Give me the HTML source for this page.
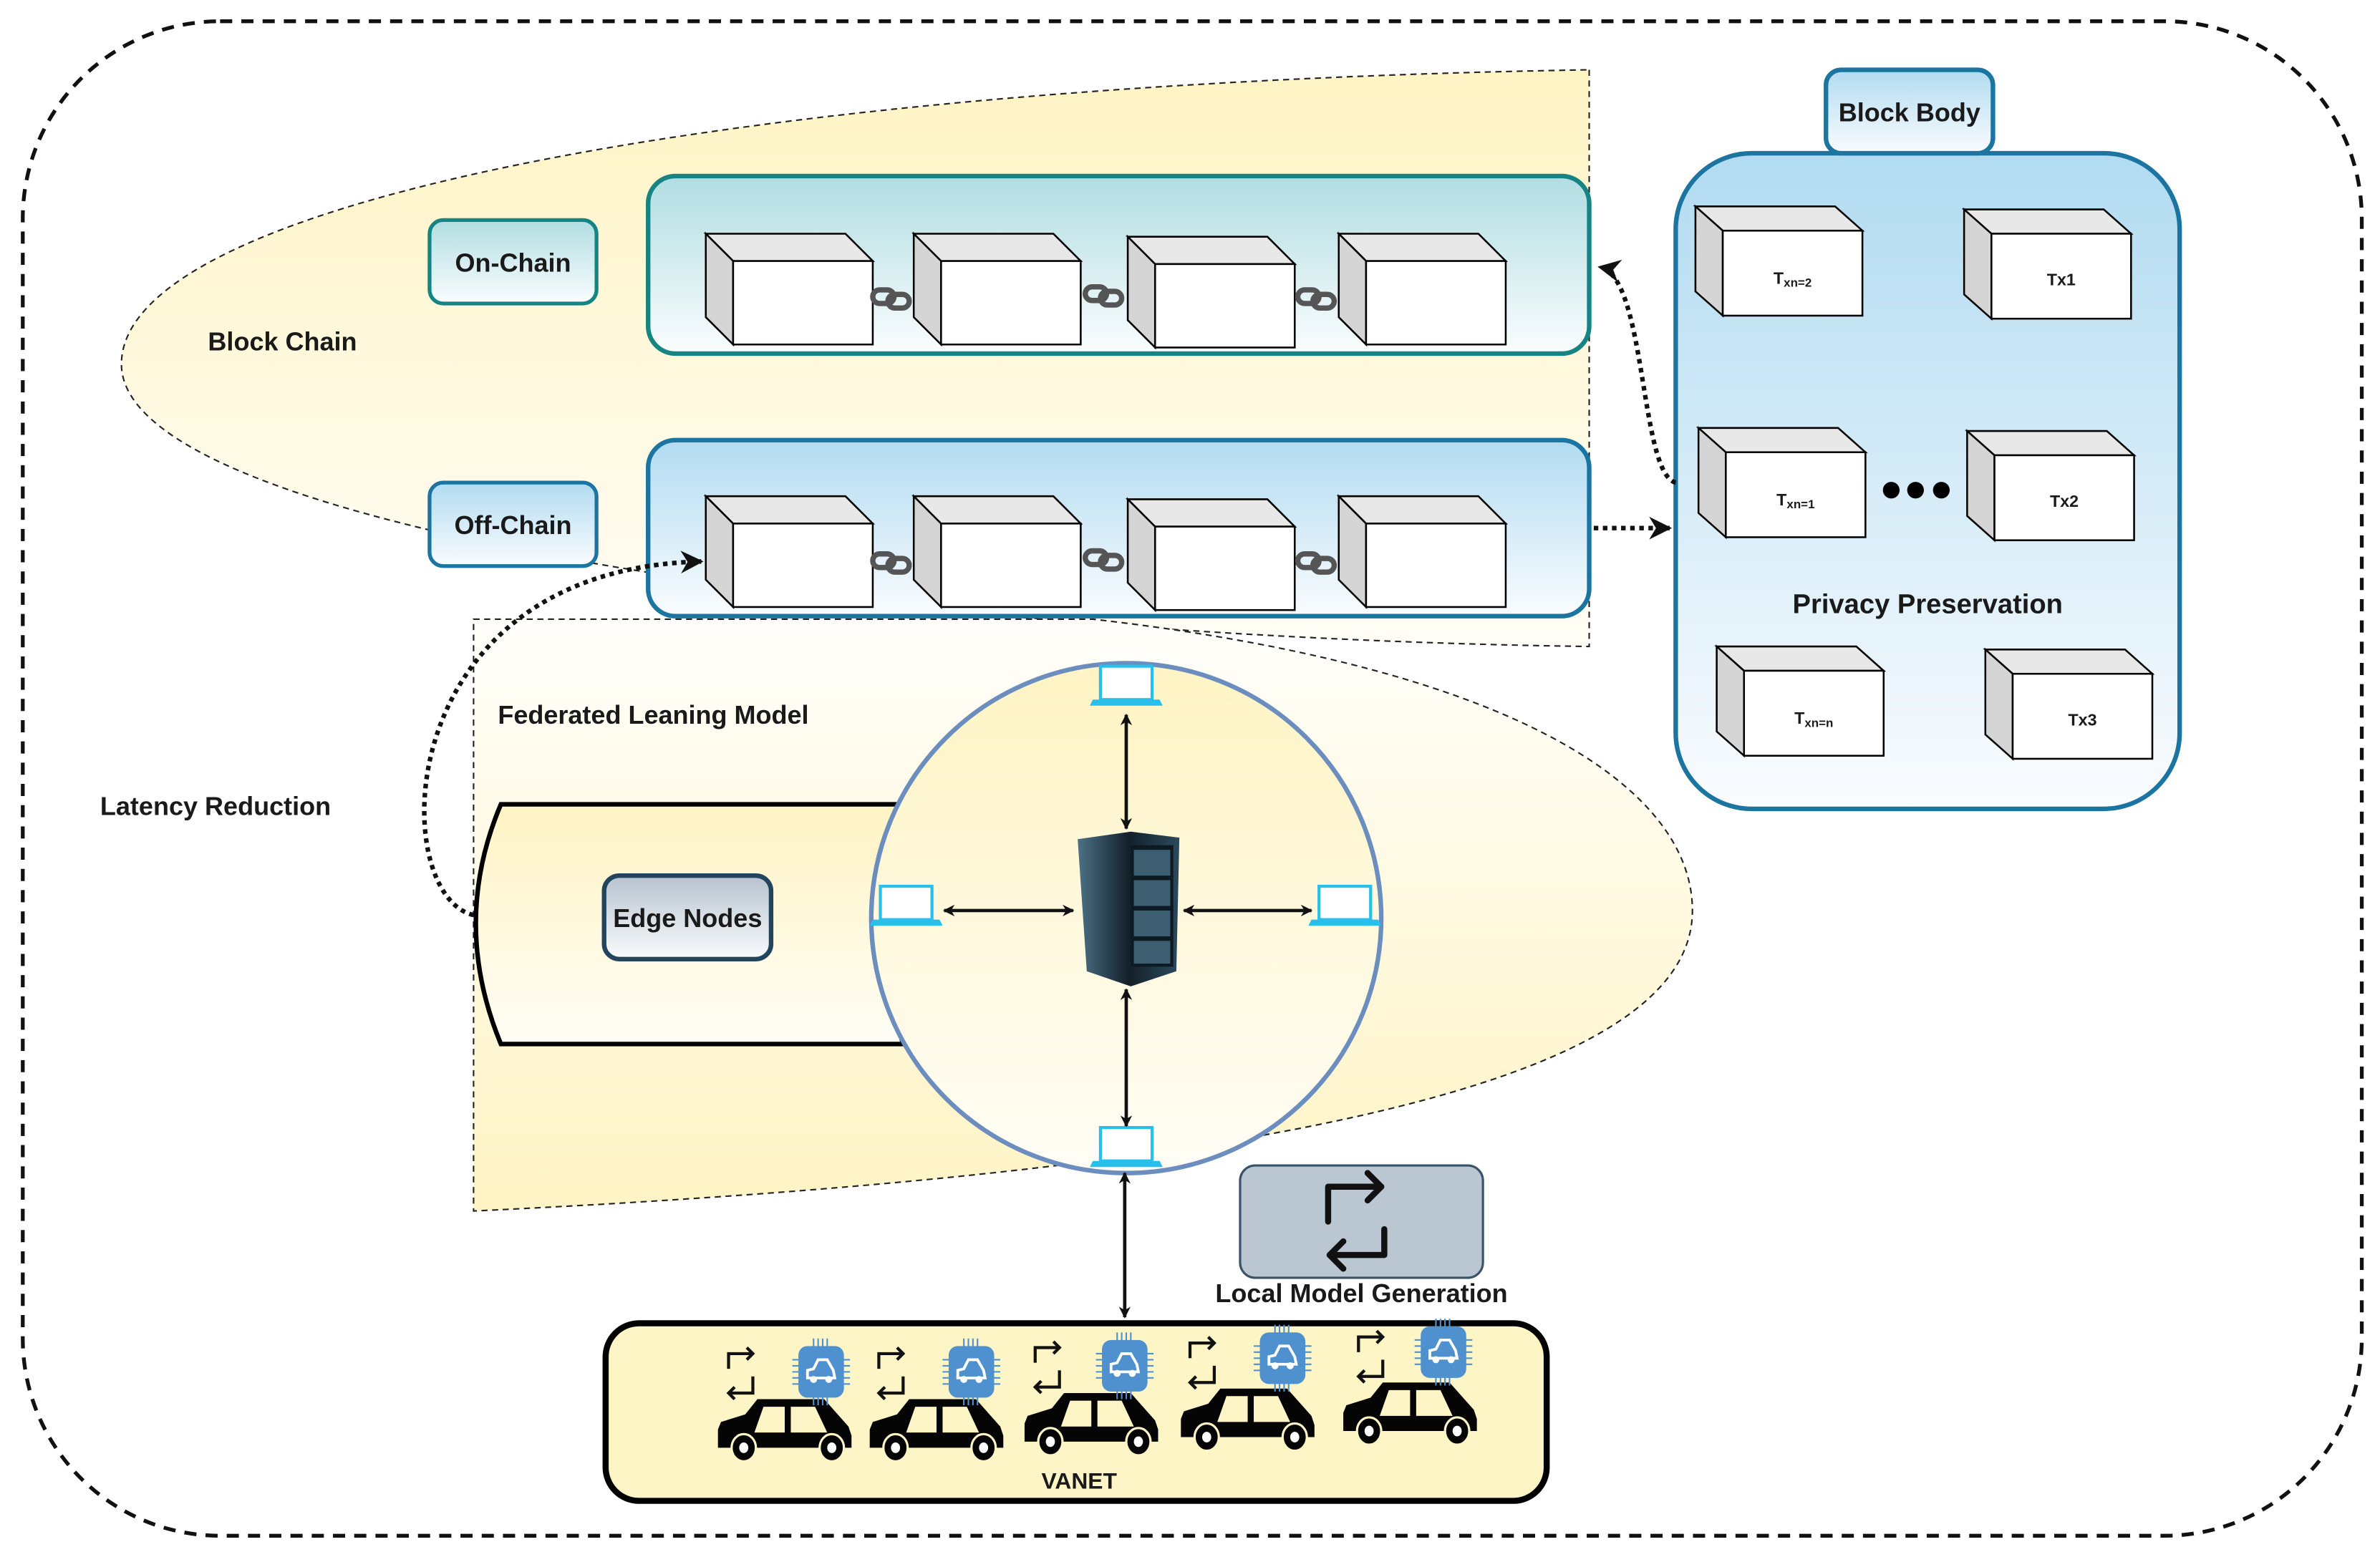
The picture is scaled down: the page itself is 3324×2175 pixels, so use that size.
<!DOCTYPE html>
<html><head><meta charset="utf-8"><style>
html,body{margin:0;padding:0;background:#fff;}
svg{display:block;}
text{font-family:"Liberation Sans",Arial,sans-serif;fill:#1a1a1a;}
</style></head><body>
<svg width="3324" height="2175" viewBox="0 0 1568 1026" preserveAspectRatio="none" xmlns="http://www.w3.org/2000/svg">
<defs>
<linearGradient id="yel" x1="0" y1="0" x2="0" y2="1"><stop offset="0" stop-color="#fff4c4"/><stop offset="1" stop-color="#fffdf6"/></linearGradient>
<linearGradient id="yelUp" x1="0" y1="0" x2="0" y2="1"><stop offset="0" stop-color="#fffefb"/><stop offset="1" stop-color="#fff4c4"/></linearGradient>
<linearGradient id="teal" x1="0" y1="0" x2="0" y2="1"><stop offset="0" stop-color="#b0dde2"/><stop offset="1" stop-color="#fbfdfe"/></linearGradient>
<linearGradient id="blue" x1="0" y1="0" x2="0" y2="1"><stop offset="0" stop-color="#b1dbf1"/><stop offset="1" stop-color="#fafcfe"/></linearGradient>
<linearGradient id="gray" x1="0" y1="0" x2="0" y2="1"><stop offset="0" stop-color="#b7c3cf"/><stop offset="1" stop-color="#f9fbfc"/></linearGradient>
<linearGradient id="srv" x1="0" y1="0" x2="1" y2="0"><stop offset="0" stop-color="#4c7186"/><stop offset="0.5" stop-color="#13202a"/><stop offset="1" stop-color="#2b4a5c"/></linearGradient>
<marker id="ah" viewBox="0 0 10 10" refX="9" refY="5" markerWidth="5" markerHeight="5" orient="auto-start-reverse"><path d="M0,0 L10,5 L0,10 L3,5 Z" fill="#111"/></marker>
<marker id="ah2" viewBox="0 0 10 10" refX="9" refY="5" markerWidth="3.5" markerHeight="3.5" orient="auto-start-reverse"><path d="M0,0 L10,5 L0,10 L3,5 Z" fill="#111"/></marker>
<g id="cube">
<path d="M0,0 L92,0 L110,18 L18,18 Z" fill="#e8e8e8" stroke="#000" stroke-width="1.2"/>
<path d="M0,0 L18,18 L18,73 L0,55 Z" fill="#d5d5d5" stroke="#000" stroke-width="1.2"/>
<rect x="18" y="18" width="92" height="55" fill="#fff" stroke="#000" stroke-width="1.2"/>
</g>
<g id="tx">
<path d="M0,0 L92,0 L110,16 L18,16 Z" fill="#e8e8e8" stroke="#000" stroke-width="1.2"/>
<path d="M0,0 L18,16 L18,72 L0,56 Z" fill="#d5d5d5" stroke="#000" stroke-width="1.2"/>
<rect x="18" y="16" width="92" height="56" fill="#fff" stroke="#000" stroke-width="1.2"/>
</g>
<g id="link" fill="none" stroke="#555" stroke-width="3.5">
<rect x="-12" y="-6" width="14" height="9" rx="4.5"/>
<rect x="-2" y="-3" width="14" height="9" rx="4.5"/>
</g>
<g id="laptop">
<rect x="-17" y="-20" width="34" height="22" fill="#fff" stroke="#29bfeb" stroke-width="2"/>
<path d="M-22,2 L22,2 L24,6 L-24,6 Z" fill="#29bfeb"/>
</g>
<g id="rep" fill="none" stroke="#111" stroke-width="2">
<path d="M2,12 L2,2 L18,2"/><path d="M14,-2 L18,2 L14,6"/>
<path d="M18,17 L18,28 L2,28"/><path d="M6,24 L2,28 L6,32"/>
</g>
<g id="car">
<path d="M0,20 L2,15 L18,10 L26,0 L70,0 L86,18 L88,24 L88,32 L0,32 Z" fill="#050505"/>
<path d="M30,5 L44,5 L44,22 L24,22 Z" fill="#fdf5c6"/>
<path d="M48,5 L64,5 L72,22 L48,22 Z" fill="#fdf5c6"/>
<ellipse cx="17" cy="32" rx="8" ry="9" fill="#050505" stroke="#fdf5c6" stroke-width="1.5"/>
<ellipse cx="17" cy="32" rx="3" ry="3.5" fill="#fff"/>
<ellipse cx="75" cy="32" rx="8" ry="9" fill="#050505" stroke="#fdf5c6" stroke-width="1.5"/>
<ellipse cx="75" cy="32" rx="3" ry="3.5" fill="#fff"/>
</g>
<g id="chip">
<g stroke="#4f91cf" stroke-width="1">
<path d="M-5,-22 V-16 M-2,-22 V-16 M1,-22 V-16 M4,-22 V-16 M-5,16 V22 M-2,16 V22 M1,16 V22 M4,16 V22"/>
<path d="M-19,-8 H-13 M-19,-4 H-13 M-19,0 H-13 M-19,4 H-13 M-19,8 H-13 M13,-8 H19 M13,-4 H19 M13,0 H19 M13,4 H19 M13,8 H19"/>
</g>
<rect x="-15" y="-17" width="30" height="34" rx="6" fill="#4f91cf"/>
<path d="M-9,4 L-9,-1 L-5,-2 L-2,-8 L4,-8 L8,-1 L9,4 Z" fill="none" stroke="#fff" stroke-width="1.8"/>
<circle cx="-5" cy="5" r="2.3" fill="#fff"/><circle cx="5" cy="5" r="2.3" fill="#fff"/>
</g>
</defs>

<rect x="15" y="14" width="1541" height="998" rx="130" fill="none" stroke="#111" stroke-width="2.5" stroke-dasharray="8,6"/>

<path d="M1047,46 L1047,426 C600,420 80,350 80,240 C80,130 500,55 1047,46 Z" fill="url(#yel)" stroke="#222" stroke-width="1" stroke-dasharray="4,3"/>

<path d="M312,408 L720,408 C1000,440 1115,520 1115,600 C1115,700 900,770 312,798 Z" fill="url(#yelUp)" stroke="#222" stroke-width="1" stroke-dasharray="4,3"/>

<rect x="427" y="116" width="620" height="117" rx="18" fill="url(#teal)" stroke="#168483" stroke-width="3"/>
<rect x="427" y="290" width="620" height="116" rx="18" fill="url(#blue)" stroke="#1b75a0" stroke-width="3"/>
<use href="#cube" x="465" y="154"/><use href="#cube" x="602" y="154"/><use href="#cube" x="743" y="156"/><use href="#cube" x="882" y="154"/>
<use href="#cube" x="465" y="327"/><use href="#cube" x="602" y="327"/><use href="#cube" x="743" y="329"/><use href="#cube" x="882" y="327"/>
<use href="#link" x="587" y="197"/><use href="#link" x="727" y="195"/><use href="#link" x="867" y="197"/>
<use href="#link" x="587" y="371"/><use href="#link" x="727" y="369"/><use href="#link" x="867" y="371"/>

<rect x="283" y="145" width="110" height="55" rx="9" fill="url(#teal)" stroke="#168483" stroke-width="2.5"/>
<text x="338" y="179" font-size="17" font-weight="bold" text-anchor="middle">On-Chain</text>
<rect x="283" y="318" width="110" height="55" rx="9" fill="url(#blue)" stroke="#1b75a0" stroke-width="2.5"/>
<text x="338" y="352" font-size="17" font-weight="bold" text-anchor="middle">Off-Chain</text>
<text x="137" y="231" font-size="17" font-weight="bold">Block Chain</text>

<rect x="1104" y="101" width="332" height="432" rx="50" fill="url(#blue)" stroke="#1b75a0" stroke-width="3"/>
<rect x="1203" y="46" width="110" height="55" rx="10" fill="url(#blue)" stroke="#1b75a0" stroke-width="3"/>
<text x="1258" y="80" font-size="17" font-weight="bold" text-anchor="middle">Block Body</text>
<use href="#tx" x="1117" y="136"/><use href="#tx" x="1294" y="138"/>
<use href="#tx" x="1119" y="282"/><use href="#tx" x="1296" y="284"/>
<use href="#tx" x="1131" y="426"/><use href="#tx" x="1308" y="428"/>
<g font-size="11" font-weight="bold" text-anchor="middle">
<text x="1181" y="187">T<tspan font-size="8" dy="2">xn=2</tspan></text>
<text x="1358" y="188">Tx1</text>
<text x="1183" y="333">T<tspan font-size="8" dy="2">xn=1</tspan></text>
<text x="1360" y="334">Tx2</text>
<text x="1195" y="477">T<tspan font-size="8" dy="2">xn=n</tspan></text>
<text x="1372" y="478">Tx3</text>
</g>
<circle cx="1246" cy="323" r="5.5" fill="#000"/><circle cx="1262" cy="323" r="5.5" fill="#000"/><circle cx="1279" cy="323" r="5.5" fill="#000"/>
<text x="1270" y="404" font-size="18" font-weight="bold" text-anchor="middle">Privacy Preservation</text>

<g fill="none" stroke="#111" stroke-width="3" stroke-dasharray="3,3">
<path d="M1050,348 L1100,348" marker-end="url(#ah)"/>
<path d="M1104,318 C1080,312 1085,182 1054,176" marker-end="url(#ah)"/>
<path d="M312,603 C255,590 255,375 462,370" marker-end="url(#ah)"/>
</g>

<path d="M330,530 L595,530 Q570,608 595,688 L330,688 Q297,608 330,530 Z" fill="url(#yel)" stroke="#000" stroke-width="3"/>
<rect x="398" y="577" width="110" height="55" rx="10" fill="url(#gray)" stroke="#23445d" stroke-width="3"/>
<text x="453" y="611" font-size="17" font-weight="bold" text-anchor="middle">Edge Nodes</text>

<text x="328" y="477" font-size="17" font-weight="bold">Federated Leaning Model</text>
<text x="66" y="537" font-size="17" font-weight="bold">Latency Reduction</text>

<circle cx="742" cy="605" r="168" fill="url(#yel)" stroke="#6c8ebf" stroke-width="3"/>
<use href="#laptop" x="742" y="459"/><use href="#laptop" x="597" y="604"/><use href="#laptop" x="886" y="604"/><use href="#laptop" x="742" y="763"/>
<path d="M710,553 L745,548 L777,552 L775,640 L745,650 L716,640 Z" fill="url(#srv)"/>
<rect x="745" y="557" width="28" height="80" fill="#0d1a22"/>
<g fill="#3d5d70"><rect x="747" y="560" width="24" height="17"/><rect x="747" y="580" width="24" height="17"/><rect x="747" y="600" width="24" height="17"/><rect x="747" y="620" width="24" height="15"/></g>
<g fill="none" stroke="#111" stroke-width="2.2" marker-start="url(#ah2)" marker-end="url(#ah2)">
<line x1="742" y1="471" x2="742" y2="546"/>
<line x1="742" y1="652" x2="742" y2="742"/>
<line x1="622" y1="600" x2="707" y2="600"/>
<line x1="780" y1="600" x2="864" y2="600"/>
<line x1="741" y1="773" x2="741" y2="868"/>
</g>

<rect x="817" y="768" width="160" height="74" rx="10" fill="#bbc6d3" stroke="#3a536b" stroke-width="1.5"/>
<g fill="none" stroke="#111" stroke-width="4" stroke-linecap="round" stroke-linejoin="round">
<path d="M875,805 L875,782 L910,782"/><path d="M901,773 L910,782 L901,791"/>
<path d="M912,810 L912,827 L876,827"/><path d="M885,818 L876,827 L885,836"/>
</g>
<text x="897" y="858" font-size="17" font-weight="bold" text-anchor="middle">Local Model Generation</text>

<rect x="399" y="872" width="620" height="117" rx="22" fill="#fdf5c6" stroke="#000" stroke-width="4"/>
<use href="#car" x="473" y="922"/><use href="#car" x="573" y="922"/><use href="#car" x="675" y="918"/><use href="#car" x="778" y="915"/><use href="#car" x="885" y="911"/>
<use href="#chip" x="541" y="904"/><use href="#chip" x="640" y="904"/><use href="#chip" x="741" y="900"/><use href="#chip" x="845" y="895"/><use href="#chip" x="951" y="891"/>
<use href="#rep" x="478" y="890"/><use href="#rep" x="577" y="890"/><use href="#rep" x="680" y="886"/><use href="#rep" x="782" y="883"/><use href="#rep" x="893" y="879"/>
<text x="711" y="981" font-size="15" font-weight="bold" text-anchor="middle">VANET</text>
</svg>
</body></html>
